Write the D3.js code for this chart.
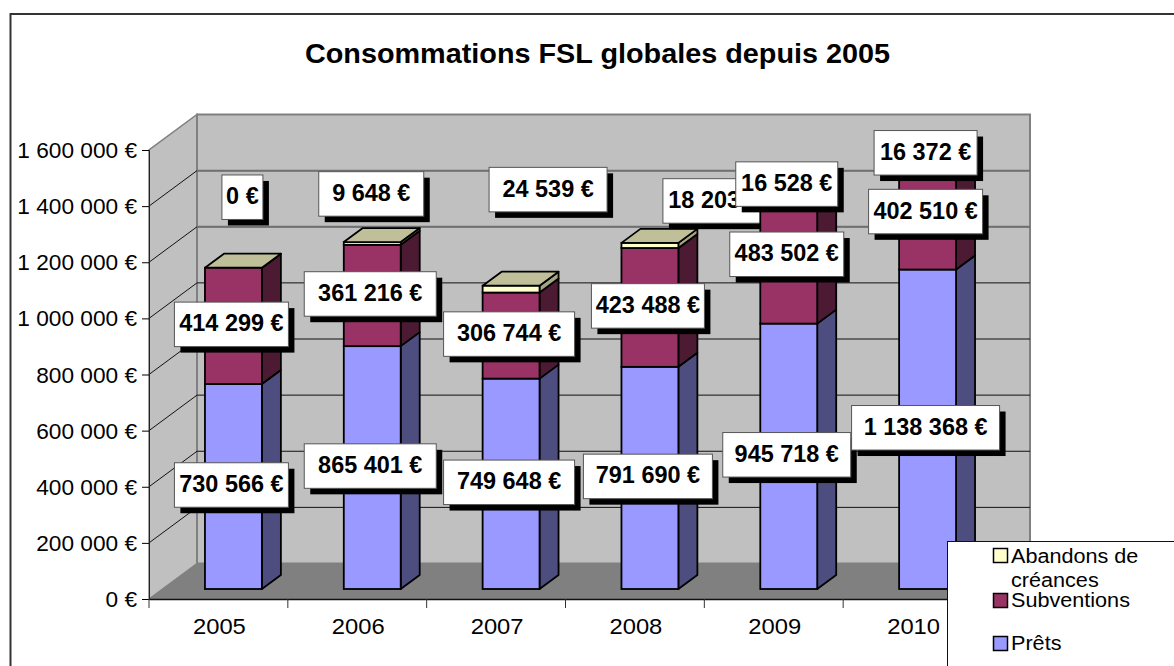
<!DOCTYPE html>
<html>
<head>
<meta charset="utf-8">
<script src="https://cdn.jsdelivr.net/npm/d3@7"></script>
<style>
  html, body { margin: 0; padding: 0; background: #fff; overflow: hidden; }
  text { font-family: "Liberation Sans", Arial, sans-serif; fill: #000; }
</style>
</head>
<body>
<script>
const years = ["2005", "2006", "2007", "2008", "2009", "2010"];
const prets = [730566, 865401, 749648, 791690, 945718, 1138368];
const subventions = [414299, 361216, 306744, 423488, 483502, 402510];
const abandons = [0, 9648, 24539, 18203, 16528, 16372];
const yTicks = [0, 200000, 400000, 600000, 800000, 1000000, 1200000, 1400000, 1600000];

// colours per series, bottom to top: front, side, top
const series = [
  { name: "Prêts", values: prets, front: "#9999ff", side: "#4d4d80", top: "#4d4d80" },
  { name: "Subventions", values: subventions, front: "#993366", side: "#4d1a33", top: "#4d1a33" },
  { name: "Abandons de créances", values: abandons, front: "#ffffcc", side: "#a5a582", top: "#bfbf99" }
];

// box widths of the data labels, and the ones moved by hand in the original
const labelWidths = [
  [114, 132, 131, 129, 128, 148],
  [114, 132, 131, 113, 114, 114],
  [41, 105, 118, 102, 102, 103]
];
const labelMoved = [
  [[0, 0], [0, 0], [0, 0], [0, 0], [0, 0], [0, 0]],
  [[0, 0], [0, 0], [0, 0], [0, 0], [0, 0], [0, 0]],
  [[11, -69], [1, -48], [39, -98], [66, -43], [0, 0], [0, 0]]
];

const width = 1174, height = 666;
const depthX = 48, depthY = -35.5;      // depth of the 3D box
const barDepthX = 19, barDepthY = -14;  // depth of a column
const barShiftX = 15, barShiftY = -10;  // columns stand in the middle of the floor
const barStroke = 1.8;

const fr = d3.formatLocale({ thousands: " ", grouping: [3], decimal: ",", currency: ["", " €"] });
const euro = v => fr.format(",d")(v) + " €";

const svg = d3.select("body").append("svg")
  .attr("width", width)
  .attr("height", height);

const x = d3.scaleBand().domain(years).range([149, 982]).paddingInner(0.59).paddingOuter(0.295);
const y = d3.scaleLinear().domain([0, 1600000]).range([599, 150]);
const left = x.range()[0], right = x.range()[1];

// text in the original is a bit wider than the font, so stretch it
function stretched(sel, px, py, sx) {
  sel.attr("x", 0).attr("y", 0).attr("dy", null)
    .attr("transform", `translate(${px},${py}) scale(${sx},1)`);
}
const pts = a => a.map(p => p.join(",")).join(" ");

// outer frame
svg.append("path")
  .attr("d", `M10.5,${height}V14H${width}`)
  .attr("fill", "none").attr("stroke", "#333").attr("stroke-width", 2);

svg.append("text")
  .text("Consommations FSL globales depuis 2005")
  .attr("text-anchor", "middle")
  .attr("font-size", 27)
  .attr("font-weight", "bold")
  .call(stretched, 597.5, 63, 1.067);

// walls and floor
const y0 = y(0), yTop = y(1600000);
svg.append("polygon")
  .attr("points", pts([[left, y0], [left + depthX, y0 + depthY], [left + depthX, yTop + depthY], [left, yTop]]))
  .attr("fill", "#c0c0c0").attr("stroke", "#808080").attr("stroke-width", 1.5);
svg.append("polygon")
  .attr("points", pts([[left + depthX, y0 + depthY], [right + depthX, y0 + depthY], [right + depthX, yTop + depthY], [left + depthX, yTop + depthY]]))
  .attr("fill", "#c0c0c0").attr("stroke", "#808080").attr("stroke-width", 2);
svg.append("polygon")
  .attr("points", pts([[left, y0], [right, y0], [right + depthX, y0 + depthY], [left + depthX, y0 + depthY]]))
  .attr("fill", "#808080");

// gridlines run over the side wall and the back wall
svg.append("g").selectAll("path")
  .data(yTicks.filter(d => d > 0 && d < 1600000))
  .join("path")
  .attr("d", d => `M${left},${y(d)}L${left + depthX},${y(d) + depthY}H${right + depthX}`)
  .attr("fill", "none")
  .attr("stroke", "#111")
  .attr("stroke-width", 1);
svg.append("g").selectAll("path")
  .data([1200000, 1400000])
  .join("path")
  .attr("d", d => `M${left + depthX},${y(d) + depthY}H${right + depthX}`)
  .attr("fill", "none")
  .attr("stroke", "#707070")
  .attr("stroke-width", 2);

// axes
const yAxis = svg.append("g")
  .attr("transform", `translate(${left},0)`)
  .call(d3.axisLeft(y).tickValues(yTicks).tickFormat(euro).tickSize(7));
yAxis.select(".domain").attr("stroke", "#222");
yAxis.selectAll("text")
  .attr("font-size", 22)
  .attr("font-family", null)
  .each(function(d) {
    d3.select(this).call(stretched, -12, 7.5, 1.03);
  });

const xAxis = svg.append("g")
  .attr("transform", `translate(0,${y0})`)
  .call(d3.axisBottom(x).tickSize(0));
xAxis.select(".domain").attr("stroke", "#111").attr("stroke-width", 1.5);
xAxis.selectAll("text")
  .attr("font-size", 22)
  .each(function(d) {
    d3.select(this).call(stretched, 1, 35, 1.08);
  });
xAxis.selectAll("line.sep")
  .data(d3.range(years.length + 1))
  .join("line")
  .attr("class", "sep")
  .attr("x1", i => left + i * x.step())
  .attr("x2", i => left + i * x.step())
  .attr("y1", 0)
  .attr("y2", 9)
  .attr("stroke", "#333");

// one group per year: the column first, then its labels
years.forEach((year, i) => {
  const g = svg.append("g");
  const bx = x(year) + barShiftX, bw = x.bandwidth();
  let sum = 0;
  const labels = [];

  series.forEach((s, k) => {
    const v = s.values[i];
    const yBottom = y(sum) + barShiftY;
    sum += v;
    const yUp = y(sum) + barShiftY;

    g.append("polygon")
      .attr("points", pts([[bx + bw, yBottom], [bx + bw + barDepthX, yBottom + barDepthY], [bx + bw + barDepthX, yUp + barDepthY], [bx + bw, yUp]]))
      .attr("fill", s.side).attr("stroke", "#000").attr("stroke-width", barStroke).attr("stroke-linejoin", "round");
    g.append("rect")
      .attr("x", bx).attr("y", yUp)
      .attr("width", bw).attr("height", yBottom - yUp)
      .attr("fill", s.front).attr("stroke", "#000").attr("stroke-width", barStroke);
    if (k === series.length - 1) {
      g.append("polygon")
        .attr("points", pts([[bx, yUp], [bx + bw, yUp], [bx + bw + barDepthX, yUp + barDepthY], [bx + barDepthX, yUp + barDepthY]]))
        .attr("fill", s.top).attr("stroke", "#000").attr("stroke-width", barStroke).attr("stroke-linejoin", "round");
    }
    labels.push({ v, k, cx: bx + bw / 2 - 2, cy: (yBottom + yUp) / 2 - 1.5 });
  });

  labels.forEach(l => {
    const w = labelWidths[l.k][i], h = 44.5;
    const mv = labelMoved[l.k][i];
    const cx = l.cx + mv[0], cy = l.cy + mv[1];
    g.append("rect")
      .attr("x", cx - w / 2 + 6).attr("y", cy - h / 2 + 6)
      .attr("width", w).attr("height", h)
      .attr("fill", "#000");
    g.append("rect")
      .attr("x", cx - w / 2).attr("y", cy - h / 2)
      .attr("width", w).attr("height", h)
      .attr("fill", "#fff").attr("stroke", "#555").attr("stroke-width", 1);
    g.append("text")
      .text(euro(l.v))
      .attr("text-anchor", "middle")
      .attr("font-size", 23)
      .attr("font-weight", "bold")
      .call(stretched, cx, cy + 7, 1.02);
  });
});

// legend, covers the corner of the chart
const legend = svg.append("g");
legend.append("rect")
  .attr("x", 947.5).attr("y", 541.5)
  .attr("width", 240).attr("height", 140)
  .attr("fill", "#fff").attr("stroke", "#111");
const legendRows = [
  { s: series[2], box: 548, lines: [["Abandons de", 563], ["créances", 587]] },
  { s: series[1], box: 593, lines: [["Subventions", 607]] },
  { s: series[0], box: 636, lines: [["Prêts", 650]] }
];
legendRows.forEach(r => {
  legend.append("rect")
    .attr("x", 993.5).attr("y", r.box + 0.5)
    .attr("width", 14).attr("height", 14)
    .attr("fill", r.s.front).attr("stroke", "#000").attr("stroke-width", 1.5);
  r.lines.forEach(l => {
    legend.append("text")
      .text(l[0])
      .attr("font-size", 21)
      .call(stretched, 1011, l[1], 1.03);
  });
});
</script>
</body>
</html>
